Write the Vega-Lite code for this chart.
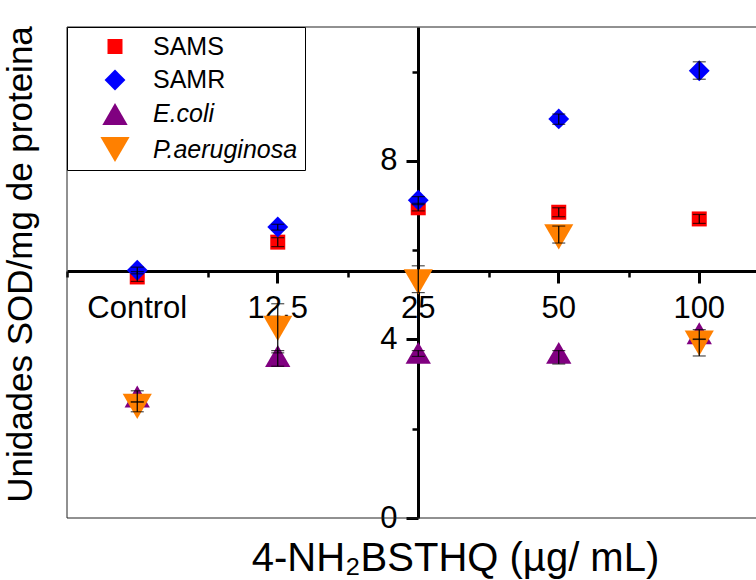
{
  "$schema": "https://vega.github.io/schema/vega-lite/v6.json",
  "width": 689,
  "height": 491,
  "autosize": {"type": "none"},
  "padding": {"left": 67, "top": 27, "right": 0, "bottom": 62},
  "config": {"font": "Liberation Sans", "view": {"stroke": null}},
  "data": {
    "values": [
      {"conc": "Control", "serie": "SAMS", "valor": 5.40, "lo": 5.30, "hi": 5.52},
      {"conc": "12,5", "serie": "SAMS", "valor": 6.18, "lo": 6.08, "hi": 6.28},
      {"conc": "25", "serie": "SAMS", "valor": 6.95, "lo": 6.88, "hi": 7.05},
      {"conc": "50", "serie": "SAMS", "valor": 6.85, "lo": 6.75, "hi": 6.95},
      {"conc": "100", "serie": "SAMS", "valor": 6.70, "lo": 6.60, "hi": 6.80},
      {"conc": "Control", "serie": "SAMR", "valor": 5.55, "lo": 5.47, "hi": 5.62},
      {"conc": "12,5", "serie": "SAMR", "valor": 6.52, "lo": 6.45, "hi": 6.58},
      {"conc": "25", "serie": "SAMR", "valor": 7.12, "lo": 7.02, "hi": 7.20},
      {"conc": "50", "serie": "SAMR", "valor": 8.94, "lo": 8.82, "hi": 9.05},
      {"conc": "100", "serie": "SAMR", "valor": 10.02, "lo": 9.83, "hi": 10.22},
      {"conc": "Control", "serie": "E.coli", "valor": 2.72, "lo": 2.60, "hi": 2.85},
      {"conc": "12,5", "serie": "E.coli", "valor": 3.63, "lo": 3.40, "hi": 3.75},
      {"conc": "25", "serie": "E.coli", "valor": 3.70, "lo": 3.62, "hi": 3.75},
      {"conc": "50", "serie": "E.coli", "valor": 3.70, "lo": 3.45, "hi": 3.75},
      {"conc": "100", "serie": "E.coli", "valor": 4.14, "lo": 4.00, "hi": 4.22},
      {"conc": "Control", "serie": "P.aeruginosa", "valor": 2.50, "lo": 2.38, "hi": 2.60},
      {"conc": "12,5", "serie": "P.aeruginosa", "valor": 4.25, "lo": 3.70, "hi": 4.80},
      {"conc": "25", "serie": "P.aeruginosa", "valor": 5.29, "lo": 5.05, "hi": 5.65},
      {"conc": "50", "serie": "P.aeruginosa", "valor": 6.30, "lo": 6.16, "hi": 6.54},
      {"conc": "100", "serie": "P.aeruginosa", "valor": 3.92, "lo": 3.63, "hi": 4.01}
    ]
  },
  "resolve": {"axis": {"x": "independent", "y": "independent"}},
  "layer": [
    {
      "data": {"values": [{}]},
      "mark": {"type": "rule", "color": "#222", "strokeWidth": 1},
      "encoding": {
        "y": {"datum": 11, "type": "quantitative", "scale": {"domain": [0, 11], "nice": false, "zero": true}, "axis": null}
      }
    },
    {
      "data": {"values": [{}]},
      "mark": {"type": "rule", "color": "#222", "strokeWidth": 1},
      "encoding": {
        "y": {"datum": 0, "type": "quantitative", "axis": null}
      }
    },
    {
      "data": {"values": [{}]},
      "mark": {"type": "rule", "color": "#222", "strokeWidth": 1},
      "encoding": {
        "x": {"datum": "Control", "type": "nominal", "bandPosition": 0, "axis": null}
      }
    },
    {
      "mark": {"type": "point", "filled": true, "opacity": 1, "strokeWidth": 0},
      "encoding": {
        "x": {
          "field": "conc", "type": "nominal",
          "scale": {"type": "band", "domain": ["Control", "12,5", "25", "50", "100"], "range": [0, 702.5], "paddingInner": 0, "paddingOuter": 0},
          "axis": {
            "orient": "bottom", "offset": -247, "title": "4-NH₂BSTHQ (µg/ mL)",
            "titleFontSize": 40, "titleFontWeight": "normal", "titleColor": "black",
            "titleX": 388, "titleY": 299, "titleAlign": "center", "titleBaseline": "alphabetic", "titleAngle": 0,
            "labelFontSize": 31, "labelColor": "black", "labelPadding": 10, "labelAngle": 0, "labelOverlap": false,
            "tickSize": 12, "tickWidth": 3, "tickColor": "black", "tickBand": "center",
            "domainColor": "black", "domainWidth": 3, "grid": false
          }
        },
        "y": {
          "field": "valor", "type": "quantitative",
          "axis": {
            "orient": "left", "offset": -351, "values": [0, 4, 8],
            "title": "Unidades SOD/mg de proteina",
            "titleFontSize": 35, "titleFontWeight": "normal", "titleColor": "black",
            "titleX": -380, "titleY": 237, "titleAlign": "center", "titleBaseline": "bottom", "titleAngle": 270,
            "labelFontSize": 31, "labelColor": "black", "labelPadding": 9,
            "tickSize": 12, "tickWidth": 3, "tickColor": "black",
            "domainColor": "black", "domainWidth": 3, "grid": false
          }
        },
        "color": {
          "field": "serie", "type": "nominal",
          "scale": {"domain": ["SAMS", "SAMR", "E.coli", "P.aeruginosa"], "range": ["#ff0000", "#0000ff", "#800080", "#ff8000"]},
          "legend": {
            "orient": "none", "legendX": 0, "legendY": 0, "title": null,
            "labelFontSize": 25, "labelColor": "black", "padding": 7, "rowPadding": 7.5,
            "symbolOffset": 26, "labelOffset": 23, "strokeColor": "black", "fillColor": "white",
            "symbolStrokeWidth": 0,
            "labelFontStyle": {"expr": "indexof(['E.coli','P.aeruginosa'], datum.value) >= 0 ? 'italic' : 'normal'"}
          }
        },
        "shape": {
          "field": "serie", "type": "nominal",
          "scale": {"domain": ["SAMS", "SAMR", "E.coli", "P.aeruginosa"], "range": ["square", "diamond", "triangle-up", "triangle-down"]}
        },
        "size": {
          "field": "serie", "type": "nominal",
          "scale": {"domain": ["SAMS", "SAMR", "E.coli", "P.aeruginosa"], "range": [225, 850, 440, 440]}
        }
      }
    },
    {
      "mark": {"type": "rule", "color": "black", "strokeWidth": 1.2},
      "encoding": {
        "x": {
          "field": "conc", "type": "nominal",
          "axis": {
            "orient": "bottom", "offset": -247, "tickBand": "extent", "labels": false, "domain": false,
            "tickSize": 6, "tickWidth": 2.5, "tickColor": "black", "title": null, "grid": false
          }
        },
        "y": {
          "field": "lo", "type": "quantitative",
          "axis": {
            "orient": "left", "offset": -351, "values": [2, 6, 10], "labels": false, "domain": false,
            "tickSize": 6, "tickWidth": 2.5, "tickColor": "black", "title": null, "grid": false
          }
        },
        "y2": {"field": "hi"}
      }
    },
    {
      "mark": {"type": "tick", "color": "black", "thickness": 1.2, "size": 13},
      "encoding": {
        "x": {"field": "conc", "type": "nominal", "axis": null},
        "y": {"field": "lo", "type": "quantitative", "axis": null}
      }
    },
    {
      "mark": {"type": "tick", "color": "black", "thickness": 1.2, "size": 13},
      "encoding": {
        "x": {"field": "conc", "type": "nominal", "axis": null},
        "y": {"field": "hi", "type": "quantitative", "axis": null}
      }
    }
  ]
}
